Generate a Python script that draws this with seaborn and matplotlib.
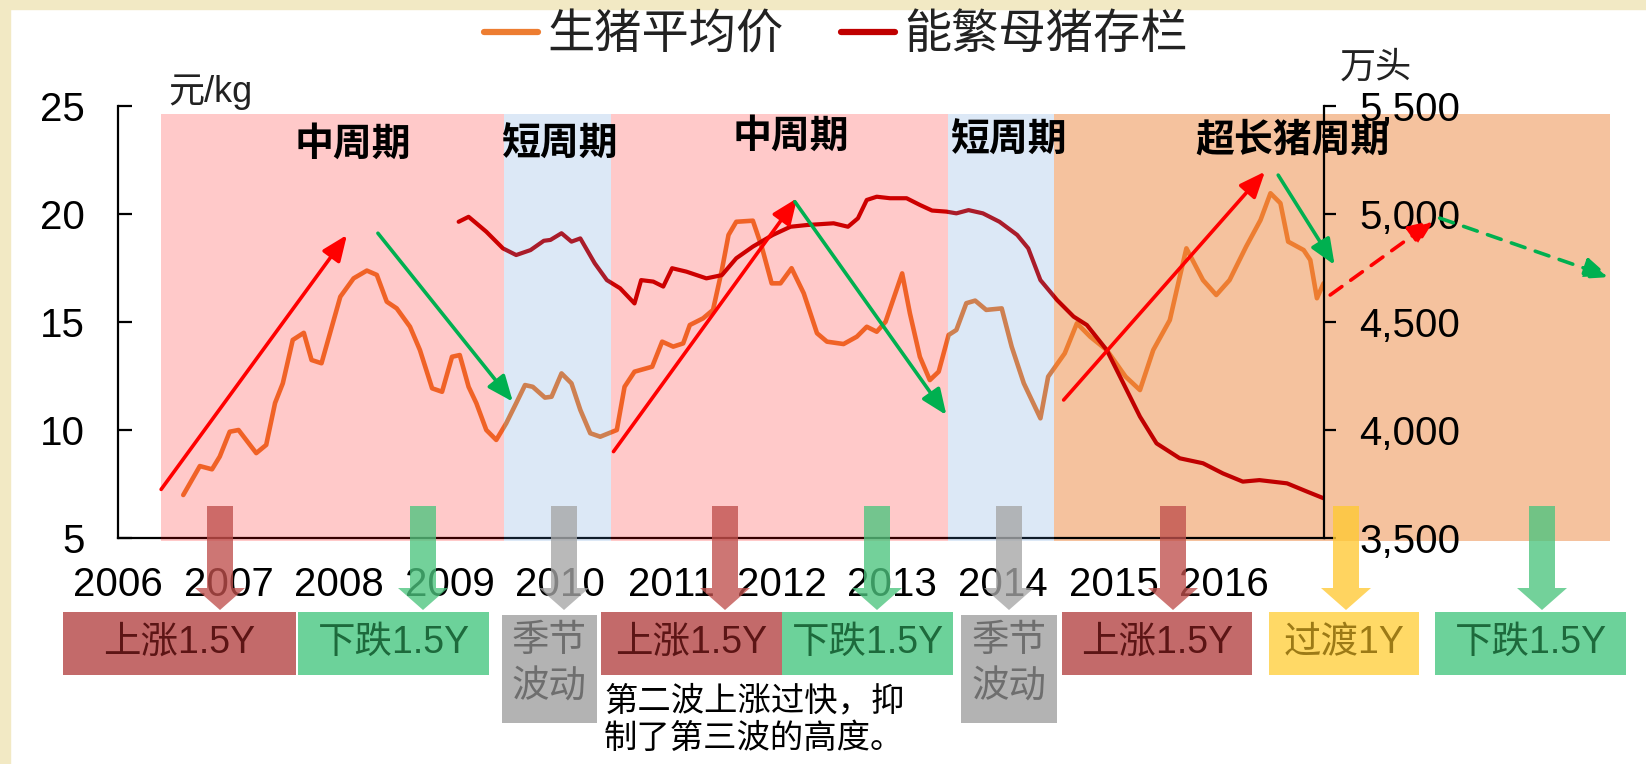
import pandas as pd
import matplotlib.pyplot as plt
import seaborn as sns
from matplotlib.patches import Rectangle, FancyArrow
from matplotlib.ticker import FuncFormatter

sns.set_style('white')
plt.rcParams['font.family'] = ['Liberation Sans', 'Noto Sans CJK SC', 'DejaVu Sans']
CJK = ['Noto Sans CJK SC', 'DejaVu Sans']

# 生猪平均价 (元/kg)
price_t = [2006.59, 2006.74, 2006.85, 2006.92, 2007.01, 2007.09, 2007.25, 2007.34, 2007.42, 2007.49,
           2007.58, 2007.68, 2007.75, 2007.84, 2008.01, 2008.13, 2008.25, 2008.34, 2008.43, 2008.52,
           2008.64, 2008.73, 2008.84, 2008.93, 2009.02, 2009.09, 2009.17, 2009.24, 2009.33, 2009.42,
           2009.51, 2009.60, 2009.68, 2009.75, 2009.86, 2009.92, 2010.01, 2010.10, 2010.18, 2010.27,
           2010.36, 2010.51, 2010.58, 2010.67, 2010.83, 2010.92, 2011.02, 2011.11, 2011.17, 2011.29,
           2011.38, 2011.46, 2011.52, 2011.59, 2011.74, 2011.82, 2011.91, 2011.99, 2012.09, 2012.20,
           2012.32, 2012.41, 2012.56, 2012.68, 2012.77, 2012.86, 2012.94, 2013.09, 2013.16, 2013.25,
           2013.34, 2013.42, 2013.51, 2013.58, 2013.67, 2013.75, 2013.85, 2013.99, 2014.08, 2014.19,
           2014.34, 2014.41, 2014.56, 2014.67, 2014.79, 2014.94, 2015.11, 2015.24, 2015.36, 2015.51,
           2015.60, 2015.66, 2015.81, 2015.93, 2016.05, 2016.20, 2016.33, 2016.42, 2016.51, 2016.58,
           2016.72, 2016.78, 2016.84, 2016.90]
price_v = [6.99, 8.33, 8.18, 8.77, 9.92, 10.0, 8.93, 9.31, 11.25, 12.16,
           14.17, 14.5, 13.24, 13.09, 16.17, 17.02, 17.38, 17.18, 15.94, 15.63,
           14.78, 13.70, 11.93, 11.77, 13.39, 13.47, 12.00, 11.24, 10.00, 9.54,
           10.31, 11.24, 12.08, 12.00, 11.50, 11.54, 12.62, 12.16, 10.93, 9.85,
           9.69, 10.00, 12.00, 12.70, 12.93, 14.09, 13.86, 14.01, 14.86, 15.17,
           15.56, 17.41, 19.03, 19.64, 19.69, 18.49, 16.79, 16.79, 17.49, 16.33,
           14.48, 14.09, 13.98, 14.32, 14.78, 14.55, 15.01, 17.25, 15.40, 13.39,
           12.31, 12.70, 14.40, 14.63, 15.87, 15.99, 15.56, 15.63, 13.86, 12.16,
           10.54, 12.47, 13.55, 14.94, 14.32, 13.70, 12.47, 11.85, 13.70, 15.09,
           17.10, 18.41, 16.94, 16.25, 16.94, 18.49, 19.72, 20.96, 20.50, 18.72,
           18.33, 17.87, 16.10, 16.79]

# 能繁母猪存栏 (万头)
sow_t = [2009.08, 2009.17, 2009.24, 2009.33, 2009.48, 2009.60, 2009.73, 2009.85, 2009.91, 2010.01,
         2010.10, 2010.18, 2010.31, 2010.42, 2010.54, 2010.67, 2010.73, 2010.84, 2010.93, 2011.01,
         2011.14, 2011.32, 2011.46, 2011.59, 2011.74, 2011.92, 2012.08, 2012.23, 2012.47, 2012.60,
         2012.69, 2012.77, 2012.86, 2012.98, 2013.13, 2013.25, 2013.36, 2013.49, 2013.58, 2013.69,
         2013.82, 2013.97, 2014.13, 2014.23, 2014.34, 2014.49, 2014.64, 2014.76, 2014.94, 2015.09,
         2015.24, 2015.39, 2015.60, 2015.81, 2015.99, 2016.17, 2016.32, 2016.57, 2016.75, 2016.90]
sow_v = [4964, 4987, 4957, 4918, 4841, 4810, 4833, 4876, 4880, 4911,
         4872, 4887, 4772, 4694, 4656, 4586, 4694, 4687, 4664, 4749,
         4733, 4702, 4717, 4795, 4849, 4903, 4941, 4949, 4957, 4941,
         4980, 5065, 5080, 5073, 5073, 5042, 5016, 5011, 5003, 5018,
         5003, 4964, 4903, 4841, 4694, 4602, 4525, 4486, 4370, 4216,
         4062, 3938, 3869, 3846, 3799, 3761, 3768, 3753, 3715, 3684]

year_ticks = list(range(2006, 2017))
left_ticks = [5, 10, 15, 20, 25]
right_ticks = [3500, 4000, 4500, 5000, 5500]

# cycle phases: start, end, name
phase_start = [2006.39, 2009.49, 2010.46, 2013.50, 2014.46]
phase_end = [2009.49, 2010.46, 2013.50, 2014.46, 2019.49]
phase_kind = ['mid', 'short', 'mid', 'short', 'long']
phase_title = ['中周期', '短周期', '中周期', '短周期', '超长猪周期']
title_x = [2008.12, 2010.00, 2012.08, 2014.06, 2016.62]
title_y = [23.24, 23.24, 23.61, 23.43, 23.43]

# trend arrows (start x, start y, end x, end y) in 元/kg units
trend_up = [(2006.39, 7.25, 2008.07, 19.03), (2010.48, 9.0, 2012.14, 20.73), (2014.55, 11.39, 2016.37, 21.96)]
trend_down = [(2008.35, 19.11, 2009.57, 11.31), (2012.12, 20.57, 2013.49, 10.69), (2016.49, 21.8, 2017.0, 17.64)]
forecast_up = (2016.96, 16.25, 2017.90, 19.72)
forecast_down = (2017.95, 19.81, 2019.49, 17.08)

# bottom phase boxes (pixel layout)
box_x0 = [63, 298, 502, 601, 782, 961, 1062, 1269, 1435]
box_x1 = [296, 489, 597, 782, 953, 1057, 1252, 1419, 1626]
box_kind = ['up', 'down', 'flat', 'up', 'down', 'flat', 'up', 'trans', 'down']
box_text = ['上涨1.5Y', '下跌1.5Y', '季节\n波动', '上涨1.5Y', '下跌1.5Y', '季节\n波动', '上涨1.5Y', '过渡1Y', '下跌1.5Y']
arrow_x = [220, 423, 564, 725, 877, 1009, 1173, 1346, 1542]

orange = '#ED7D31'
red = '#C00000'
box_col = {'up': '#C36A6A', 'down': '#6CD29A', 'flat': '#B3B3B3', 'trans': '#FFD966'}
arrow_col = {'up': '#C0504D', 'down': '#4CC47E', 'flat': '#A6A6A6', 'trans': '#FFC933'}
text_col = {'up': '#5C1515', 'down': '#1D6A3C', 'flat': '#6E6E6E', 'trans': '#9C7A16'}
shade_col = {'mid': ('#FF0000', 0.21), 'short': ('#538DD5', 0.2)}

W, H = 1646, 764
fig = plt.figure(figsize=(W / 100, H / 100), dpi=100)
fig.add_artist(Rectangle((0, 0), 10 / W, 1, transform=fig.transFigure, color='#F2E9C4', zorder=-5))
fig.add_artist(Rectangle((0, 1 - 9 / H), 1, 9 / H, transform=fig.transFigure, color='#F2E9C4', zorder=-5))

ax = fig.add_axes([118 / W, 1 - 538 / H, 1206 / W, 432 / H])
ax2 = ax.twinx()

df_price = pd.DataFrame({'t': price_t, 'v': price_v})
df_sow = pd.DataFrame({'t': sow_t, 'v': sow_v})
sns.lineplot(data=df_price, x='t', y='v', ax=ax, color=orange, lw=3.3, label='生猪平均价', legend=False, zorder=2)
sns.lineplot(data=df_sow, x='t', y='v', ax=ax2, color=red, lw=3.0, label='能繁母猪存栏', legend=False, zorder=2)

# shaded phases: long cycle under lines, others as translucent overlay
for s, e, k in zip(phase_start, phase_end, phase_kind):
    if k == 'long':
        ax.add_patch(Rectangle((s, 4.86), e - s, 24.63 - 4.86, color='#F5C29E', lw=0, zorder=0.5, clip_on=False))
    else:
        c, a = shade_col[k]
        ax2.add_patch(Rectangle((s, 4.86), e - s, 24.63 - 4.86, transform=ax.transData, color=c, alpha=a,
                                lw=0, zorder=3, clip_on=False))

for tx, ty, s in zip(title_x, title_y, phase_title):
    ax2.text(tx, ty, s, transform=ax.transData, ha='center', va='center', fontsize=28,
             fontweight='bold', family=CJK, color='black', zorder=6)


def trend(seg, color, ls='-'):
    ax2.annotate('', xy=(seg[2], seg[3]), xytext=(seg[0], seg[1]), xycoords=ax.transData,
                 textcoords=ax.transData, annotation_clip=False, zorder=5,
                 arrowprops=dict(arrowstyle='-|>,head_length=0.6,head_width=0.25', mutation_scale=26,
                                 color=color, lw=2.6, linestyle=ls, shrinkA=0, shrinkB=0))


for seg in trend_up:
    trend(seg, '#FF0000')
for seg in trend_down:
    trend(seg, '#00B050')
trend(forecast_up, '#FF0000', (0, (4, 3)))
trend(forecast_down, '#00B050', (0, (4, 3)))

ax.set_xlim(2006, 2016.904)
ax.set_ylim(5, 25)
ax2.set_ylim(3500, 5500)
ax.set_xticks(year_ticks)
ax.set_xticklabels([str(y) for y in year_ticks])
ax.set_yticks(left_ticks)
ax2.set_yticks(right_ticks)
ax2.yaxis.set_major_formatter(FuncFormatter(lambda v, p: f'{v:,.0f}'))
for a in (ax, ax2):
    a.set_xlabel('')
    a.set_ylabel('')
ax.tick_params(axis='x', direction='in', length=9, width=1.6, pad=20, labelsize=29, colors='black')
ax.tick_params(axis='y', direction='in', length=10, width=1.6, pad=24, labelsize=29, colors='black')
ax2.tick_params(axis='y', direction='out', length=8.5, width=1.6, pad=17, labelsize=29, colors='black')
for side in ['top', 'right']:
    ax.spines[side].set_visible(False)
for side in ['top', 'left', 'bottom']:
    ax2.spines[side].set_visible(False)
for sp in [ax.spines['left'], ax.spines['bottom'], ax2.spines['right']]:
    sp.set_color('black')
    sp.set_linewidth(1.6)

leg = fig.legend(handles=[ax.lines[0], ax2.lines[0]], labels=['生猪平均价', '能繁母猪存栏'], loc='center',
                 bbox_to_anchor=(836 / W, 1 - 35 / H), ncol=2, frameon=False,
                 prop={'family': CJK, 'size': 34}, handlelength=1.15, handletextpad=0.2,
                 columnspacing=1.2, labelcolor='#222222')
for line in leg.get_lines():
    line.set_linewidth(4.5)

# pixel overlay for the phase boxes underneath the chart
ov = fig.add_axes([0, 0, 1, 1], zorder=10)
ov.set_xlim(0, W)
ov.set_ylim(H, 0)
ov.axis('off')
ov.patch.set_visible(False)

ov.text(168, 92, '元/kg', ha='left', va='center', fontsize=26, color='#222222')
ov.text(1340, 68, '万头', ha='left', va='center', fontsize=26, family=CJK, color='#222222')

for x, k in zip(arrow_x, box_kind):
    ov.add_patch(FancyArrow(x, 506, 0, 104, width=26, head_width=50, head_length=22,
                            length_includes_head=True, color=arrow_col[k], alpha=0.78, lw=0))

for x0, x1, k, s in zip(box_x0, box_x1, box_kind, box_text):
    tall = '\n' in s
    y0, y1 = (615, 723) if tall else (612, 675)
    ov.add_patch(Rectangle((x0, y0), x1 - x0, y1 - y0, color=box_col[k], lw=0))
    if tall:
        top, bottom = s.split('\n')
        ov.text((x0 + x1) / 2, 641, top, ha='center', va='center', fontsize=27, color=text_col[k])
        ov.text((x0 + x1) / 2, 688, bottom, ha='center', va='center', fontsize=27, color=text_col[k])
    else:
        ov.text((x0 + x1) / 2, 643, s, ha='center', va='center', fontsize=27, color=text_col[k])

ov.text(604, 701, '第二波上涨过快，抑', ha='left', va='center', fontsize=24, family=CJK, color='black')
ov.text(604, 738, '制了第三波的高度。', ha='left', va='center', fontsize=24, family=CJK, color='black')

fig.savefig('out.png', dpi=100, facecolor='white')
